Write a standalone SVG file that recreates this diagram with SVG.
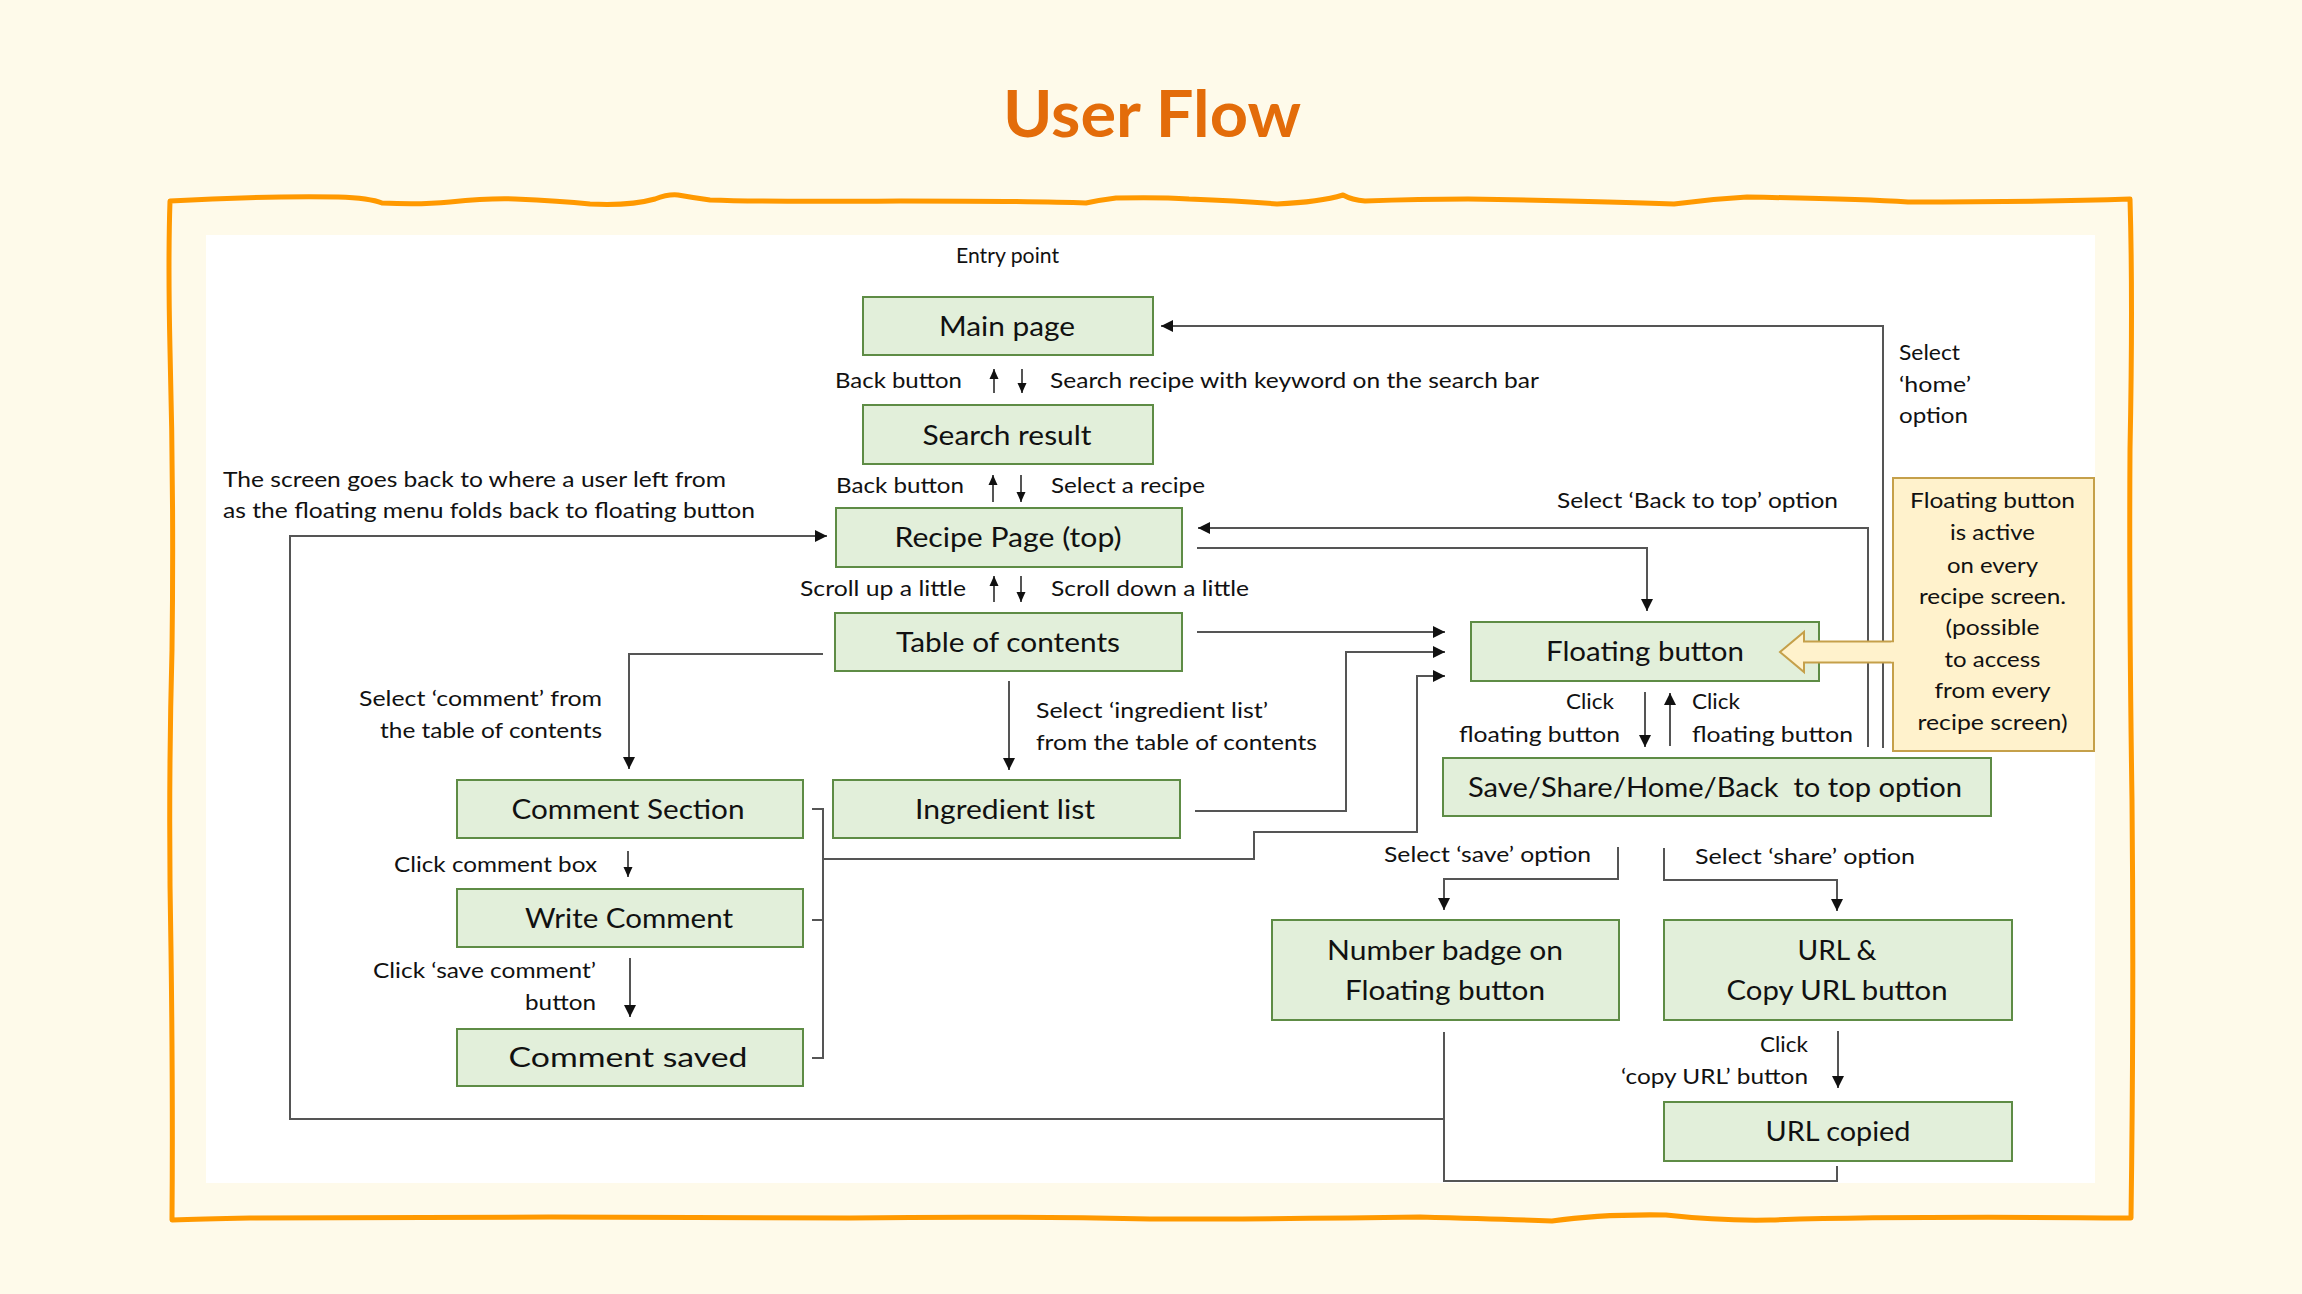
<svg xmlns="http://www.w3.org/2000/svg" width="2302" height="1294" viewBox="0 0 2302 1294">
<defs>
<style>
.box{fill:#E2EFDA;stroke:#5E8C45;stroke-width:2}
.bt{font-family:Lato,"Liberation Sans",sans-serif;font-size:27px;fill:#111;text-anchor:middle}
.lb{font-family:Lato,"Liberation Sans",sans-serif;font-size:22px;fill:#111}
.end{text-anchor:end}
.mid{text-anchor:middle}
.ln{fill:none;stroke:#555;stroke-width:2}
.ar{marker-end:url(#arr)}
.as{marker-end:url(#arrS)}
</style>
<marker id="arr" markerUnits="userSpaceOnUse" markerWidth="12" markerHeight="12" refX="12" refY="6" orient="auto">
<path d="M0,0 L12,6 L0,12 z" fill="#111"/>
</marker>
<marker id="arrS" markerUnits="userSpaceOnUse" markerWidth="10" markerHeight="10" refX="10" refY="5" orient="auto">
<path d="M0,0.5 L10,5 L0,9.5 z" fill="#111"/>
</marker>
</defs>
<rect x="0" y="0" width="2302" height="1294" fill="#FEFAEA"/>
<text x="1152" y="137" font-family="Lato,'Liberation Sans',sans-serif" font-weight="bold" font-size="65" fill="#E36C0A" text-anchor="middle" textLength="298" lengthAdjust="spacingAndGlyphs">User Flow</text>
<path id="frame" fill="none" stroke="#FF9900" stroke-width="5" stroke-linejoin="round" stroke-linecap="round" d="M170,201 Q250,196 338,197 Q370,198 382,203 Q420,205 450,202 Q490,198 515,199 Q560,201 590,204 Q630,206 655,199 Q668,194 678,195 Q695,198 710,200 Q760,202 900,201 Q1040,201 1086,203 Q1100,200 1116,198 Q1160,197 1189,199 Q1240,201 1277,204 Q1320,202 1343,195 Q1352,200 1365,201 Q1420,199 1468,199 Q1600,201 1674,204 Q1710,199 1747,197 Q1860,199 1908,202 Q2040,202 2130,199 Q2133,300 2130,450 Q2129,600 2132,800 Q2134,1000 2131,1218 Q1900,1216 1770,1220 Q1720,1221 1666,1215 Q1600,1214 1552,1221 Q1500,1219 1420,1217 Q1300,1219 1150,1219 Q1000,1216 850,1218 Q700,1218 550,1217 Q400,1218 250,1218 Q200,1219 172,1220 Q173,1100 171,950 Q168,800 172,650 Q174,500 170,350 Q168,260 170,201 Z"/>
<rect x="206" y="235" width="1889" height="948" fill="#FFFFFF"/>
<g id="connectors">
<path class="ln as" d="M994,393 V369"/>
<path class="ln as" d="M1022,369 V393"/>
<path class="ln as" d="M993,502 V475"/>
<path class="ln as" d="M1021,475 V502"/>
<path class="ln as" d="M994,602 V576"/>
<path class="ln as" d="M1021,576 V602"/>
<path class="ln ar" d="M1883,748 V326 H1161"/>
<path class="ln ar" d="M1868,747 V528 H1198"/>
<path class="ln ar" d="M1197,548 H1647 V611"/>
<path class="ln ar" d="M1197,632 H1445"/>
<path class="ln ar" d="M1195,811 H1346 V652 H1445"/>
<path class="ln" d="M812,809 H823 V1058 H812"/>
<path class="ln" d="M812,920 H823"/>
<path class="ln ar" d="M823,859 H1254 V832 H1417 V676 H1445"/>
<path class="ln ar" d="M823,654 H629 V769"/>
<path class="ln ar" d="M1009,681 V770"/>
<path class="ln as" d="M628,851 V877"/>
<path class="ln ar" d="M630,958 V1017"/>
<path class="ln ar" d="M1645,692 V747"/>
<path class="ln ar" d="M1670,746 V693"/>
<path class="ln ar" d="M1618,847 V879 H1444 V910"/>
<path class="ln ar" d="M1664,848 V880 H1837 V911"/>
<path class="ln ar" d="M1838,1031 V1088"/>
<path class="ln" d="M1444,1032 V1181 H1837 V1166"/>
<path class="ln ar" d="M1444,1119 H290 V536 H827"/>
</g>
<g id="labels">
<text class="lb" x="956" y="263" font-size="19" textLength="103" lengthAdjust="spacingAndGlyphs">Entry point</text>
<text class="lb end" x="962" y="388" textLength="127" lengthAdjust="spacingAndGlyphs">Back button</text>
<text class="lb" x="1050" y="388" textLength="489" lengthAdjust="spacingAndGlyphs">Search recipe with keyword on the search bar</text>
<text class="lb end" x="964" y="493" textLength="128" lengthAdjust="spacingAndGlyphs">Back button</text>
<text class="lb" x="1051" y="493" textLength="154" lengthAdjust="spacingAndGlyphs">Select a recipe</text>
<text class="lb end" x="966" y="596" textLength="166" lengthAdjust="spacingAndGlyphs">Scroll up a little</text>
<text class="lb" x="1051" y="596" textLength="198" lengthAdjust="spacingAndGlyphs">Scroll down a little</text>
<text class="lb" x="223" y="487" textLength="503" lengthAdjust="spacingAndGlyphs">The screen goes back to where a user left from</text>
<text class="lb" x="223" y="518" textLength="532" lengthAdjust="spacingAndGlyphs">as the floating menu folds back to floating button</text>
<text class="lb" x="1557" y="508" textLength="281" lengthAdjust="spacingAndGlyphs">Select ‘Back to top’ option</text>
<text class="lb" x="1899" y="360" textLength="61" lengthAdjust="spacingAndGlyphs">Select</text>
<text class="lb" x="1899" y="392" textLength="72" lengthAdjust="spacingAndGlyphs">‘home’</text>
<text class="lb" x="1899" y="423" textLength="69" lengthAdjust="spacingAndGlyphs">option</text>
<text class="lb end" x="1614" y="709" textLength="48" lengthAdjust="spacingAndGlyphs">Click</text>
<text class="lb end" x="1620" y="742" textLength="161" lengthAdjust="spacingAndGlyphs">floating button</text>
<text class="lb" x="1692" y="709" textLength="48" lengthAdjust="spacingAndGlyphs">Click</text>
<text class="lb" x="1692" y="742" textLength="161" lengthAdjust="spacingAndGlyphs">floating button</text>
<text class="lb end" x="602" y="706" textLength="243" lengthAdjust="spacingAndGlyphs">Select ‘comment’ from</text>
<text class="lb end" x="602" y="738" textLength="222" lengthAdjust="spacingAndGlyphs">the table of contents</text>
<text class="lb" x="1036" y="718" textLength="232" lengthAdjust="spacingAndGlyphs">Select ‘ingredient list’</text>
<text class="lb" x="1036" y="750" textLength="281" lengthAdjust="spacingAndGlyphs">from the table of contents</text>
<text class="lb end" x="597" y="872" textLength="203" lengthAdjust="spacingAndGlyphs">Click comment box</text>
<text class="lb end" x="596" y="978" textLength="223" lengthAdjust="spacingAndGlyphs">Click ‘save comment’</text>
<text class="lb end" x="596" y="1010" textLength="71" lengthAdjust="spacingAndGlyphs">button</text>
<text class="lb" x="1384" y="862" textLength="207" lengthAdjust="spacingAndGlyphs">Select ‘save’ option</text>
<text class="lb" x="1695" y="864" textLength="220" lengthAdjust="spacingAndGlyphs">Select ‘share’ option</text>
<text class="lb end" x="1808" y="1052" textLength="48" lengthAdjust="spacingAndGlyphs">Click</text>
<text class="lb end" x="1808" y="1084" textLength="187" lengthAdjust="spacingAndGlyphs">‘copy URL’ button</text>
</g>
<g id="main-page"><rect class="box" x="863" y="297" width="290" height="58"/><text class="bt" x="1007" y="336" textLength="136" lengthAdjust="spacingAndGlyphs">Main page</text></g>
<g id="search-result"><rect class="box" x="863" y="405" width="290" height="59"/><text class="bt" x="1007" y="445" textLength="169" lengthAdjust="spacingAndGlyphs">Search result</text></g>
<g id="recipe-page"><rect class="box" x="836" y="508" width="346" height="59"/><text class="bt" x="1008" y="547" textLength="227" lengthAdjust="spacingAndGlyphs">Recipe Page (top)</text></g>
<g id="table-of-contents"><rect class="box" x="835" y="613" width="347" height="58"/><text class="bt" x="1008" y="652" textLength="224" lengthAdjust="spacingAndGlyphs">Table of contents</text></g>
<g id="floating-button"><rect class="box" x="1471" y="622" width="348" height="59"/><text class="bt" x="1645" y="661" textLength="198" lengthAdjust="spacingAndGlyphs">Floating button</text></g>
<g id="options"><rect class="box" x="1443" y="758" width="548" height="58"/><text class="bt" x="1715" y="797" textLength="494" lengthAdjust="spacingAndGlyphs" xml:space="preserve">Save/Share/Home/Back  to top option</text></g>
<g id="comment-section"><rect class="box" x="457" y="780" width="346" height="58"/><text class="bt" x="628" y="819" textLength="233" lengthAdjust="spacingAndGlyphs">Comment Section</text></g>
<g id="write-comment"><rect class="box" x="457" y="889" width="346" height="58"/><text class="bt" x="629" y="928" textLength="208" lengthAdjust="spacingAndGlyphs">Write Comment</text></g>
<g id="comment-saved"><rect class="box" x="457" y="1029" width="346" height="57"/><text class="bt" x="628" y="1067" font-size="30" textLength="239" lengthAdjust="spacingAndGlyphs">Comment saved</text></g>
<g id="ingredient-list"><rect class="box" x="833" y="780" width="347" height="58"/><text class="bt" x="1005" y="819" textLength="180" lengthAdjust="spacingAndGlyphs">Ingredient list</text></g>
<g id="number-badge"><rect class="box" x="1272" y="920" width="347" height="100"/><text class="bt" x="1445" y="960" textLength="236" lengthAdjust="spacingAndGlyphs">Number badge on</text><text class="bt" x="1445" y="1000" textLength="200" lengthAdjust="spacingAndGlyphs">Floating button</text></g>
<g id="url-copy"><rect class="box" x="1664" y="920" width="348" height="100"/><text class="bt" x="1837" y="960" textLength="79" lengthAdjust="spacingAndGlyphs">URL &amp;</text><text class="bt" x="1837" y="1000" textLength="221" lengthAdjust="spacingAndGlyphs">Copy URL button</text></g>
<g id="url-copied"><rect class="box" x="1664" y="1102" width="348" height="59"/><text class="bt" x="1838" y="1141" textLength="145" lengthAdjust="spacingAndGlyphs">URL copied</text></g>
<g id="note">
<rect x="1893" y="478" width="201" height="273" fill="#FFF2CC" stroke="#C5A04A" stroke-width="2"/>
<path d="M1894,641.5 H1804 V632 L1780,652 L1804,672 V662.5 H1894" fill="#FFF2CC" stroke="#C5A04A" stroke-width="2" stroke-linejoin="miter"/>
<rect x="1891" y="642.5" width="4" height="19" fill="#FFF2CC"/>
<text class="lb mid" x="1992.5" y="508" font-size="21" textLength="165" lengthAdjust="spacingAndGlyphs">Floating button</text>
<text class="lb mid" x="1992.5" y="540" font-size="21" textLength="85" lengthAdjust="spacingAndGlyphs">is active</text>
<text class="lb mid" x="1992.5" y="573" font-size="21" textLength="91" lengthAdjust="spacingAndGlyphs">on every</text>
<text class="lb mid" x="1992.5" y="604" font-size="21" textLength="147" lengthAdjust="spacingAndGlyphs">recipe screen.</text>
<text class="lb mid" x="1992.5" y="635" font-size="21" textLength="94" lengthAdjust="spacingAndGlyphs">(possible</text>
<text class="lb mid" x="1992.5" y="667" font-size="21" textLength="96" lengthAdjust="spacingAndGlyphs">to access</text>
<text class="lb mid" x="1992.5" y="698" font-size="21" textLength="116" lengthAdjust="spacingAndGlyphs">from every</text>
<text class="lb mid" x="1992.5" y="730" font-size="21" textLength="150" lengthAdjust="spacingAndGlyphs">recipe screen)</text>
</g>
</svg>
